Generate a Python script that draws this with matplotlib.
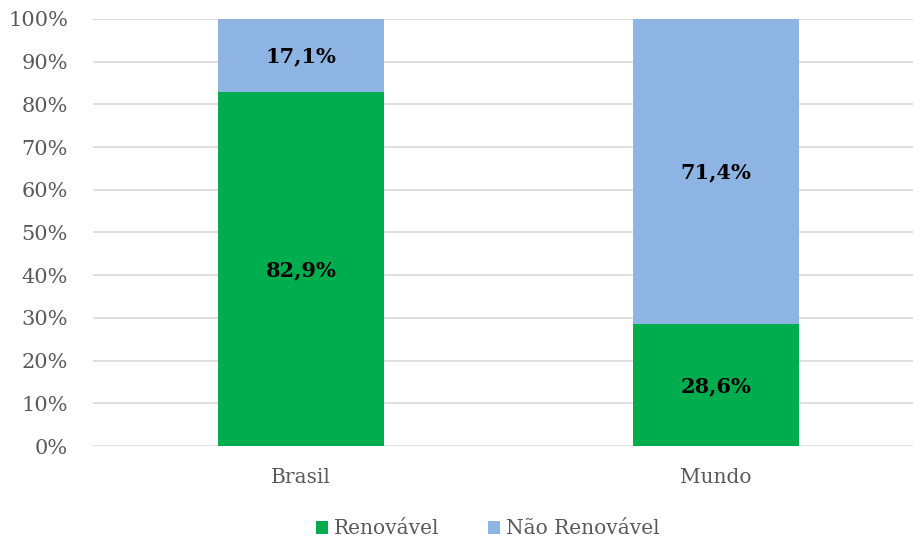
import matplotlib
matplotlib.use("Agg")
import matplotlib.pyplot as plt
from matplotlib.ticker import PercentFormatter, MultipleLocator

categories = ["Brasil", "Mundo"]
renovavel = [82.9, 28.6]
nao_renovavel = [17.1, 71.4]
series_names = ["Renovável", "Não Renovável"]
colors = ["#00AD4E", "#8EB4E3"]

plt.rcParams['font.family'] = ['DejaVu Serif']

fig = plt.figure(figsize=(9.13, 5.43), dpi=100)
ax = fig.add_axes([93/913, 97/543, 820/913, 427/543])

x = range(len(categories))
b1 = ax.bar(x, renovavel, width=0.4, color=colors[0], label=series_names[0], zorder=3)
b2 = ax.bar(x, nao_renovavel, width=0.4, bottom=renovavel, color=colors[1], label=series_names[1], zorder=3)

for bars, vals, bottoms in [(b1, renovavel, [0, 0]), (b2, nao_renovavel, renovavel)]:
    for rect, v, b in zip(bars, vals, bottoms):
        ax.text(rect.get_x() + rect.get_width()/2, b + v/2 - 0.3, f"{v:.1f}%".replace(".", ","),
                ha="center", va="center", fontsize=15, fontweight="bold", color="black", zorder=4)

ax.set_xlim(-0.501, 1.475)
ax.set_ylim(0, 100)
ax.yaxis.set_major_locator(MultipleLocator(10))
ax.yaxis.set_major_formatter(PercentFormatter(decimals=0))
ax.set_xticks(list(x))
ax.set_xticklabels(categories)
ax.grid(axis="y", color="#D9D9D9", linewidth=1.2, zorder=0)
for s in ax.spines.values():
    s.set_visible(False)
ax.tick_params(axis="both", length=0, labelsize=15, labelcolor="#595959")
ax.tick_params(axis="x", pad=16, labelsize=14.5)
ax.tick_params(axis="y", pad=18)

fig.legend(handles=[b1, b2], labels=series_names, loc="center", bbox_to_anchor=(488/913, 14/543),
           ncol=2, frameon=False, fontsize=14.5, labelcolor="#595959",
           handlelength=0.6, handleheight=0.6, handletextpad=0.3, columnspacing=2.4)

fig.savefig("out.png", dpi=100)
